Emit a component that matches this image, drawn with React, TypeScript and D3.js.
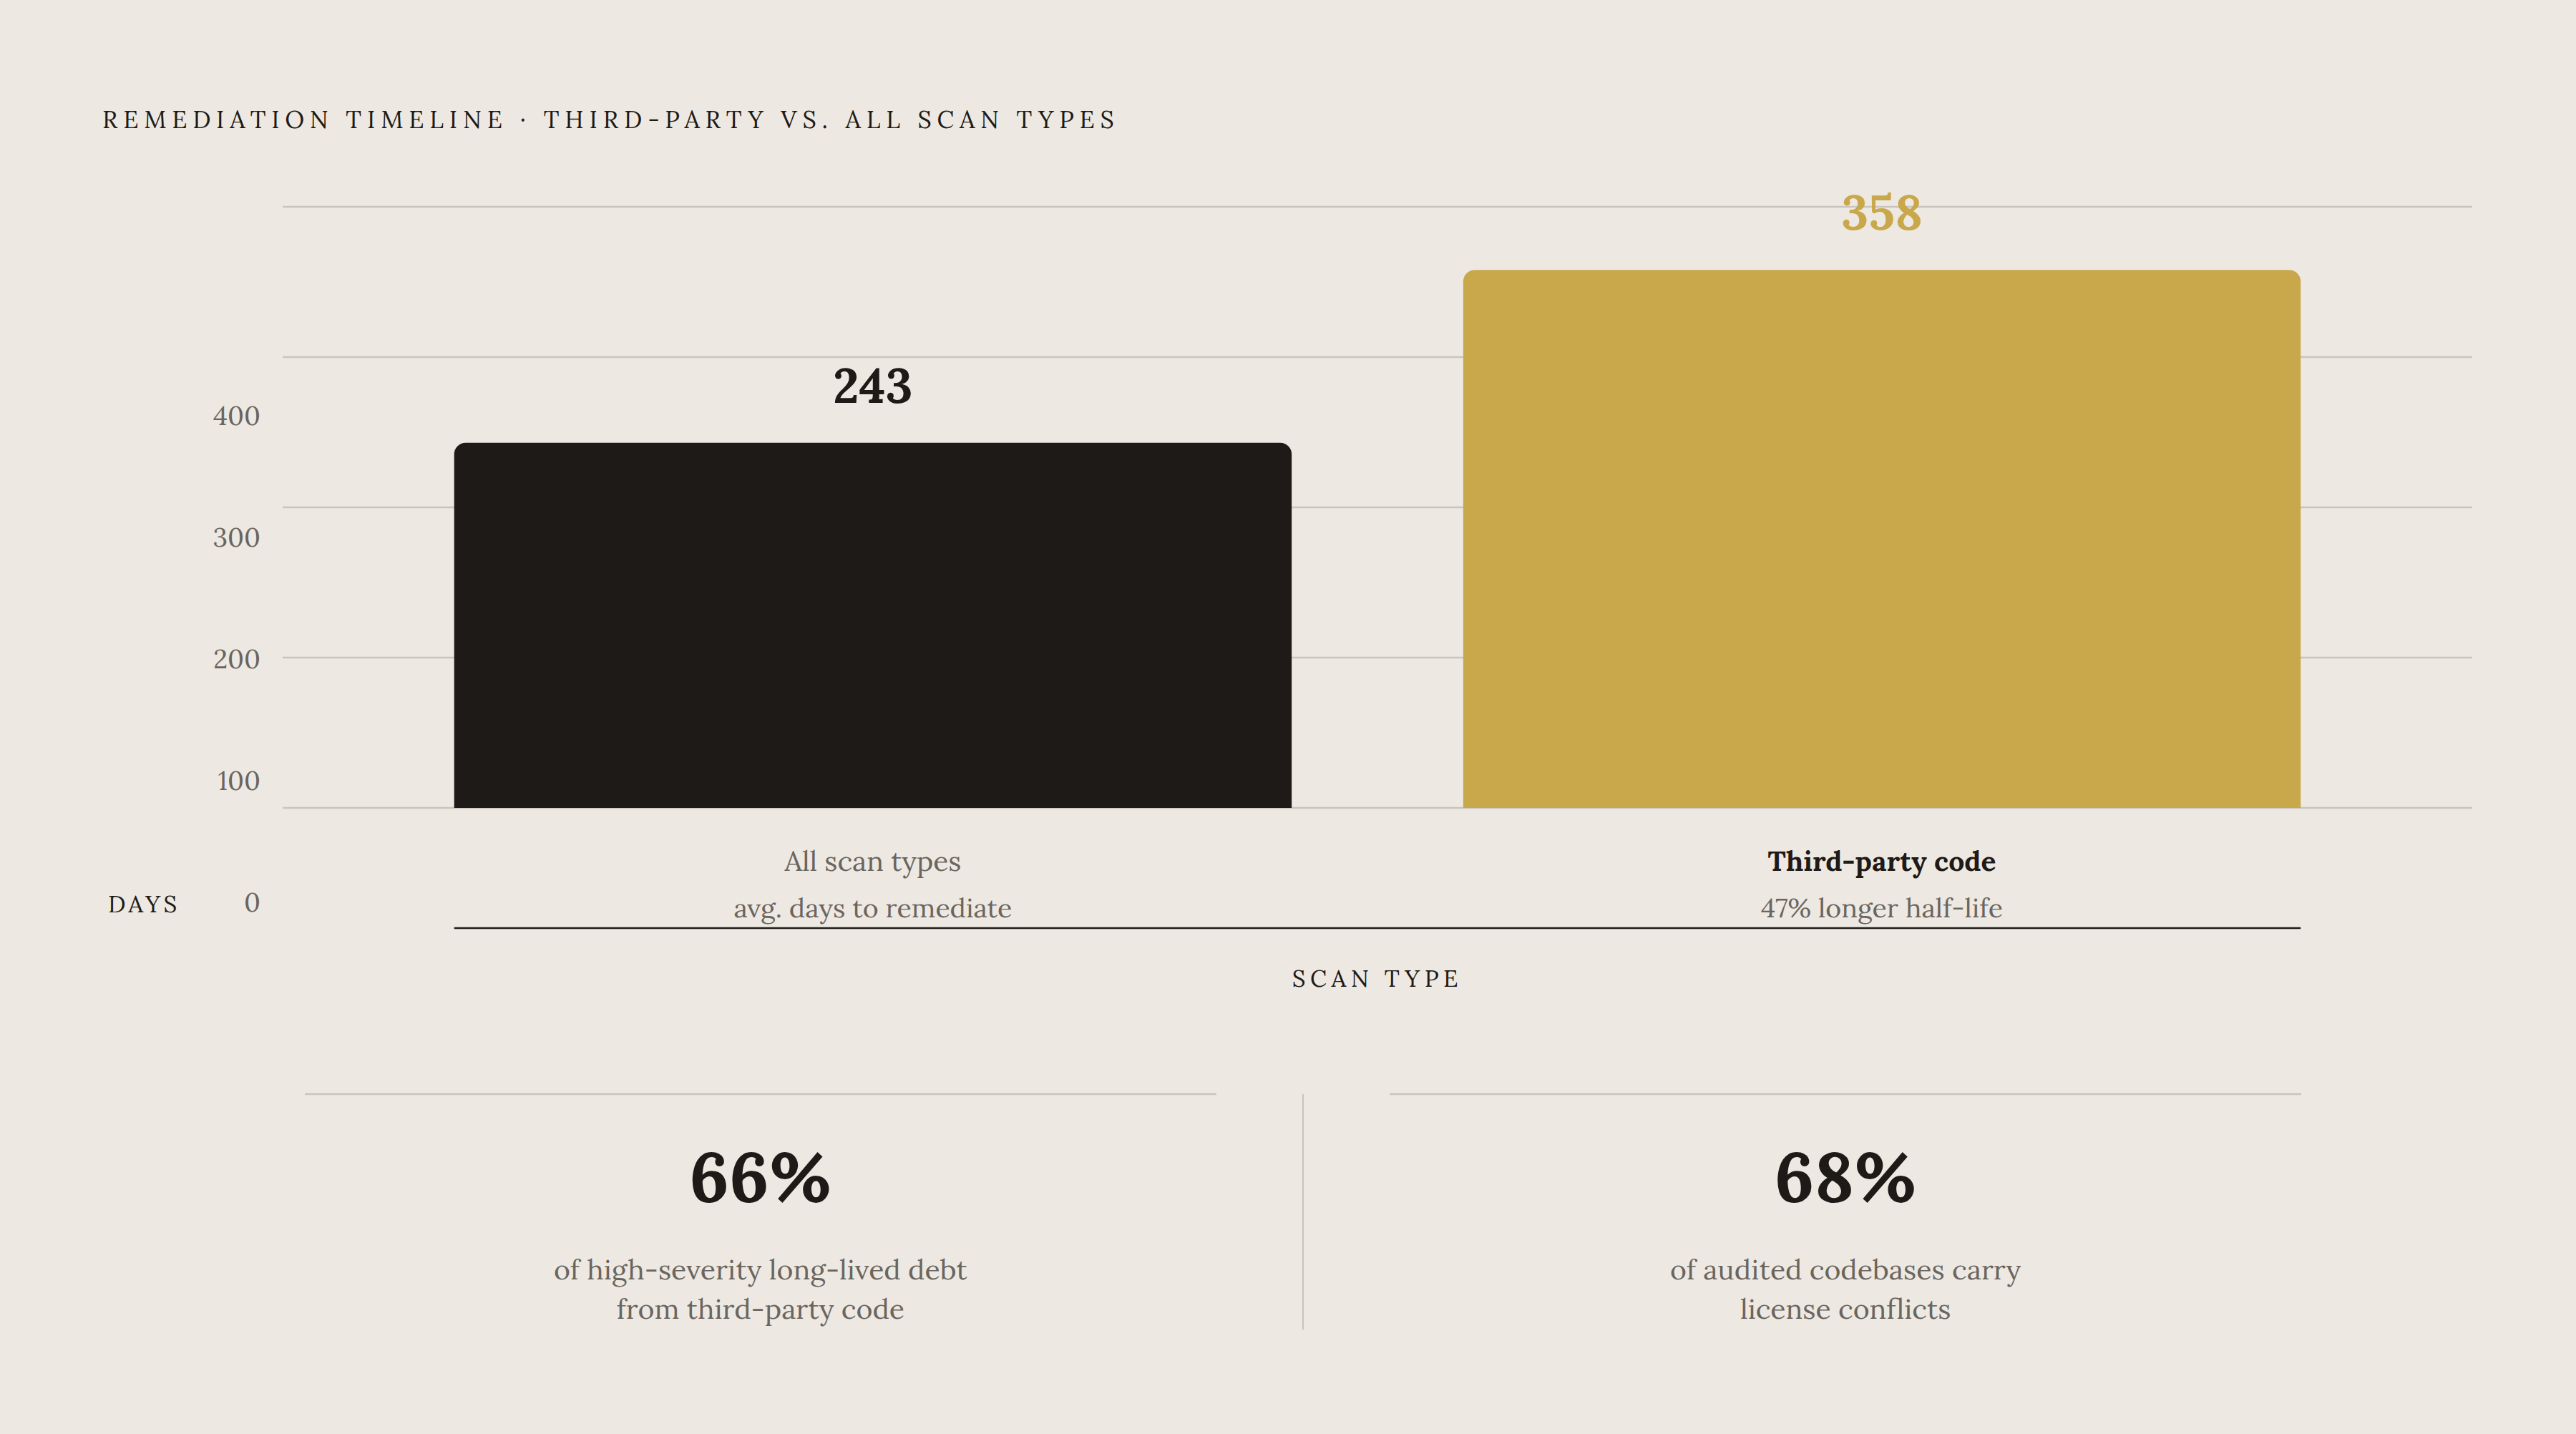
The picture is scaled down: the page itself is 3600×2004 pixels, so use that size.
import * as d3 from "d3";

const WIDTH = 3600;
const HEIGHT = 2004;

// data
const categories = ["All scan types", "Third-party code"];
const subtitles = ["avg. days to remediate", "47% longer half-life"];
const values = [243, 358];
const yTicks = [0, 100, 200, 300, 400];

const statValues = ["66%", "68%"];
const statLines = [
  ["of high-severity long-lived debt", "from third-party code"],
  ["of audited codebases carry", "license conflicts"],
];

const TITLE = "REMEDIATION TIMELINE · THIRD-PARTY VS. ALL SCAN TYPES";

const BG = "#ede9e2";
const GRID = "#c9c4bc";
const INK = "#1e1a17";
const GOLD = "#c9a84b";
const MUTED = "#6b655f";
const FONT = "Lora, 'DejaVu Serif', serif";

const PLOT = { left: 395, right: 3455, top: 289, bottom: 1129 };

// rectangle with the two top corners rounded
const topRounded = (x: number, y: number, w: number, h: number, r: number) =>
  `M${x},${y + h}V${y + r}A${r},${r} 0 0 1 ${x + r},${y}H${x + w - r}A${r},${r} 0 0 1 ${x + w},${y + r}V${y + h}Z`;

export default function App() {
  const xScale = d3
    .scaleBand<string>()
    .domain(categories)
    .range([PLOT.left, PLOT.right])
    .paddingInner(0.17)
    .paddingOuter(0.17);

  const yScale = d3.scaleLinear().domain([0, 400]).range([PLOT.bottom, PLOT.top]);
  // tick labels sit on their own (offset) scale, as in the original
  const labelScale = d3.scaleLinear().domain([0, 400]).range([1274, 594]);

  const statScale = d3
    .scaleBand<number>()
    .domain([0, 1])
    .range([426, 3216])
    .paddingInner(0.16);

  const bw = xScale.bandwidth();
  const firstX = xScale(categories[0])!;
  const lastX = xScale(categories[categories.length - 1])! + bw;
  const sw = statScale.bandwidth();
  const dividerX = (statScale(0)! + sw + statScale(1)!) / 2;

  return (
    <svg
      width={WIDTH}
      height={HEIGHT}
      style={{ position: "absolute", left: 0, top: 0, display: "block" }}
      fontFamily={FONT}
    >
      <rect width={WIDTH} height={HEIGHT} fill={BG} />

      <text x={143} y={179} fontSize={34} fill={INK} letterSpacing="7.85px">
        {TITLE}
      </text>

      {/* grid */}
      {yTicks.map((t) => (
        <line
          key={t}
          x1={PLOT.left}
          x2={PLOT.right}
          y1={yScale(t)}
          y2={yScale(t)}
          stroke={GRID}
          strokeWidth={2.3}
        />
      ))}

      {/* y tick labels */}
      {yTicks.map((t) => (
        <text
          key={t}
          x={364}
          y={labelScale(t)}
          textAnchor="end"
          fontSize={37}
          fill={MUTED}
        >
          {t}
        </text>
      ))}
      <text x={151} y={1275} fontSize={33} fill={INK} letterSpacing="4.3px">
        DAYS
      </text>

      {/* bars */}
      {values.map((v, i) => {
        const x = xScale(categories[i])!;
        const y = yScale(v);
        return (
          <g key={categories[i]}>
            <path
              d={topRounded(x, y, bw, yScale(0) - y, 16)}
              fill={i === 1 ? GOLD : INK}
            />
            <text
              x={x + bw / 2}
              y={y - 56}
              textAnchor="middle"
              fontSize={68}
              fontWeight={700}
              fill={i === 1 ? GOLD : INK}
            >
              {v}
            </text>
            <text
              x={x + bw / 2}
              y={1217}
              textAnchor="middle"
              fontSize={39}
              fontWeight={i === 1 ? 700 : 400}
              fill={i === 1 ? INK : MUTED}
            >
              {categories[i]}
            </text>
            <text
              x={x + bw / 2}
              y={1282}
              textAnchor="middle"
              fontSize={37.5}
              fill={MUTED}
            >
              {subtitles[i]}
            </text>
          </g>
        );
      })}

      <line x1={firstX} x2={lastX} y1={1297} y2={1297} stroke={INK} strokeWidth={2.7} />
      <text
        x={(PLOT.left + PLOT.right) / 2}
        y={1379}
        textAnchor="middle"
        fontSize={33}
        fill={INK}
        letterSpacing="0.2em"
      >
        SCAN TYPE
      </text>

      {/* stat panels */}
      {statValues.map((s, i) => {
        const x = statScale(i)!;
        const cx = x + sw / 2;
        return (
          <g key={s}>
            <line x1={x} x2={x + sw} y1={1529} y2={1529} stroke={GRID} strokeWidth={2.3} />
            <text x={cx} y={1679} textAnchor="middle" fontSize={97} fontWeight={700} fill={INK}>
              {s}
            </text>
            {statLines[i].map((l, j) => (
              <text
                key={l}
                x={cx}
                y={1788 + j * 55}
                textAnchor="middle"
                fontSize={39.2}
                fill={MUTED}
              >
                {l}
              </text>
            ))}
          </g>
        );
      })}
      <line x1={dividerX} x2={dividerX} y1={1529} y2={1858} stroke={GRID} strokeWidth={2} />
    </svg>
  );
}
